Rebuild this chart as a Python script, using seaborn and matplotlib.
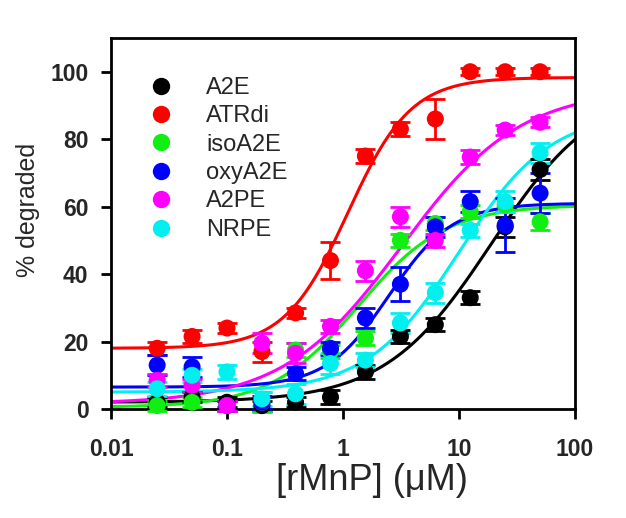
import numpy as np
import pandas as pd
import matplotlib
matplotlib.use("Agg")
import matplotlib.pyplot as plt
import seaborn as sns
from matplotlib.lines import Line2D

sns.set_theme(style="white")
plt.rcParams['font.family'] = ['Liberation Sans', 'DejaVu Sans']

# ---------------- data ----------------
conc = [0.025, 0.05, 0.1, 0.2, 0.39, 0.78, 1.56, 3.125, 6.25, 12.5, 25, 50]
compounds = ["A2E", "ATRdi", "isoA2E", "oxyA2E", "A2PE", "NRPE"]
colors = ["#000000", "#ff0000", "#11ee11", "#0000ff", "#ff00ff", "#00f0f0"]

a2e_vals = [2, 3.5, 2, 1, 2, 3.5, 11, 21.5, 25, 33, 54, 71]
atrdi_vals = [18, 21.5, 24, 17, 28.5, 44, 75, 83, 86, 100, 100, 100]
isoa2e_vals = [1, 2, 1, 2, 17.5, 17, 21, 50, 55, 58.5, 60.5, 55.5]
oxya2e_vals = [13, 12.5, 1, 2, 10.5, 18, 27, 37, 54, 61.5, 54.5, 64]
a2pe_vals = [8.5, 7, 1, 19.5, 16.5, 24.5, 41, 57, 50, 74.7, 82.7, 85]
nrpe_vals = [6, 10, 11, 3, 4.5, 13.5, 14.5, 25.5, 34.5, 53, 61.5, 76]

a2e_err = [1.5, 1.5, 1.5, 1.5, 1.5, 2, 2, 2, 2, 2, 3, 3]
atrdi_err = [2, 2, 1.5, 3, 1.5, 5.5, 2, 2, 6, 1, 1, 1]
isoa2e_err = [1.5, 1.5, 1.5, 3, 2, 2, 2, 2, 2, 2, 2, 2.5]
oxya2e_err = [3, 3, 1.5, 2, 2, 2, 3, 5, 3, 3, 8, 6]
a2pe_err = [2, 2, 1.5, 3, 3, 2, 3, 3, 2, 2, 1.5, 1.5]
nrpe_err = [2, 2, 2, 2, 3, 3, 2, 3, 3, 2, 3, 3]

# four-parameter logistic fit parameters
fit_bottom = [2, 18, 0.5, 6.5, 1.5, 5]
fit_top = [96, 98.3, 60.5, 61, 95, 88]
fit_ec50 = [19, 1.1, 1.35, 2.5, 3.2, 10]
fit_hill = [0.95, 1.6, 1.15, 1.6, 0.85, 1.1]

values = [a2e_vals, atrdi_vals, isoa2e_vals, oxya2e_vals, a2pe_vals, nrpe_vals]
errors = [a2e_err, atrdi_err, isoa2e_err, oxya2e_err, a2pe_err, nrpe_err]

pts = pd.DataFrame({
    "conc": np.tile(conc, len(compounds)),
    "val": np.concatenate(values),
    "err": np.concatenate(errors),
    "cmp": np.repeat(compounds, len(conc)),
})

xs = np.logspace(-2, 2, 300)
curve_rows = []
for c, b, t, e, h in zip(compounds, fit_bottom, fit_top, fit_ec50, fit_hill):
    ys = b + (t - b) / (1 + (e / xs) ** h)
    curve_rows.append(pd.DataFrame({"conc": xs, "val": ys, "cmp": c}))
curves = pd.concat(curve_rows)

palette = dict(zip(compounds, colors))

# ---------------- figure ----------------
fig = plt.figure(figsize=(6.26, 5.18), dpi=100)
ax = fig.add_axes([111 / 626, 1 - 409 / 518, 464 / 626, 371 / 518])

sns.lineplot(data=curves, x="conc", y="val", hue="cmp", palette=palette,
             linewidth=2.2, legend=False, ax=ax, zorder=2)

for c in compounds:
    d = pts[pts.cmp == c]
    ax.errorbar(d.conc, d.val, yerr=d.err, fmt="none", ecolor=palette[c],
                elinewidth=2, capsize=7.5, capthick=2, zorder=3, clip_on=False)

sns.scatterplot(data=pts, x="conc", y="val", hue="cmp", palette=palette,
                s=150, edgecolor="none", legend=False, ax=ax, zorder=4,
                clip_on=False)

ax.set_xscale("log")
ax.set_xlim(0.01, 100)
ax.set_ylim(0, 110)
ax.set_xticks([0.01, 0.1, 1, 10, 100])
ax.set_xticklabels(["0.01", "0.1", "1", "10", "100"])
ax.set_yticks([0, 20, 40, 60, 80, 100])
ax.xaxis.set_minor_locator(matplotlib.ticker.NullLocator())

for s in ax.spines.values():
    s.set_linewidth(2)
    s.set_color("black")
ax.tick_params(axis="both", which="major", direction="out", length=7.2,
               width=2, color="black", labelsize=16.5,
               bottom=True, left=True)
ax.tick_params(axis="x", pad=14)
ax.tick_params(axis="y", pad=9)
for lab in ax.get_xticklabels() + ax.get_yticklabels():
    lab.set_fontweight("bold")

ax.set_xlabel("[rMnP] (\u03bcM)", fontsize=26)
ax.xaxis.set_label_coords(0.5625, -0.146)
ax.set_ylabel("% degraded", fontsize=18)
ax.yaxis.set_label_coords(-0.153, 0.536)

handles = [Line2D([], [], marker="o", linestyle="none", markersize=12.5,
                  markerfacecolor=col, markeredgecolor="none") for col in colors]
ax.legend(handles, compounds, loc="upper left", bbox_to_anchor=(0.057, 0.895),
          frameon=False, fontsize=17, labelspacing=0.27, handletextpad=0.9,
          borderaxespad=0, borderpad=0)

fig.savefig("out.png", dpi=100)
